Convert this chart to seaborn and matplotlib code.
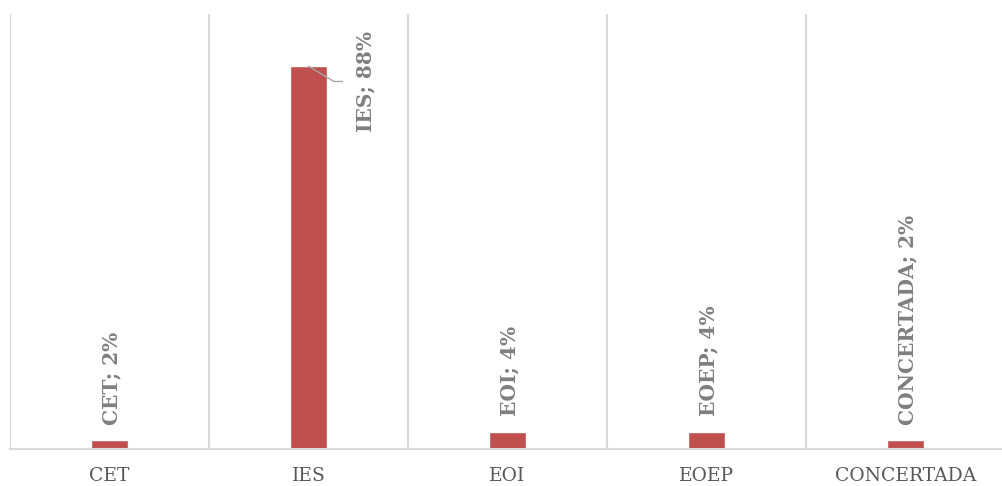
import numpy as np
import matplotlib
matplotlib.use("Agg")
import matplotlib.pyplot as plt
import seaborn as sns

# Data
categories = ["CET", "IES", "EOI", "EOEP", "CONCERTADA"]
shares = [0.02, 0.88, 0.04, 0.04, 0.02]
label_texts = ["CET; 2%", "IES; 88%", "EOI; 4%", "EOEP; 4%", "CONCERTADA; 2%"]

bar_color = "#C0504D"
grid_color = "#D9D9D9"

sns.set_style("white")
plt.rcParams["font.family"] = ["DejaVu Serif", "DejaVu Sans"]

fig = plt.figure(figsize=(10.02, 4.86), dpi=100)
# plot area: left edge at x=10px, baseline at y=449px, top at y=14px
ax = fig.add_axes([10 / 1002, 37 / 486, 995 / 1002, 435 / 486])

sns.barplot(x=categories, y=shares, color=bar_color, width=0.185,
            saturation=1, ax=ax)

ax.set_xlim(-0.5, 4.5)
ax.set_ylim(0, 1)

# vertical separators between categories
ax.set_xticks(np.arange(-0.5, 5), minor=True)
ax.grid(which="minor", axis="x", color=grid_color, linewidth=1.5)
ax.grid(which="major", visible=False)
ax.set_axisbelow(True)

for side in ["top", "right", "left"]:
    ax.spines[side].set_visible(False)
ax.spines["bottom"].set_color(grid_color)
ax.spines["bottom"].set_linewidth(1.5)

ax.set_yticks([])
ax.set_ylabel("")
ax.tick_params(axis="x", which="both", length=0, pad=13,
               labelsize=13.5, labelcolor="#595959")

# data labels
for i, (val, txt) in enumerate(zip(shares, label_texts)):
    if i == 1:
        ax.annotate(txt, xy=(i, val), xytext=(41, -11), textcoords="offset points",
                    rotation=90, ha="center", va="center", fontsize=14.5,
                    fontweight="bold", color="#7F7F7F",
                    arrowprops=dict(arrowstyle="-", color="#A6A6A6", lw=1,
                                    shrinkA=7, shrinkB=0,
                                    connectionstyle="angle,angleA=0,angleB=-31,rad=0"))
    else:
        ax.annotate(txt, xy=(i, val), xytext=(1, 11), textcoords="offset points",
                    rotation=90, ha="center", va="bottom", fontsize=14.5,
                    fontweight="bold", color="#7F7F7F")

fig.savefig("out.png", dpi=100)
